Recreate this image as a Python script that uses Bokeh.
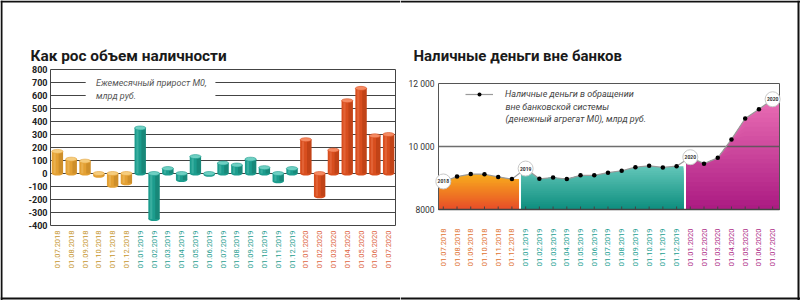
import numpy as np
from math import pi
from bokeh.plotting import figure
from bokeh.layouts import row
from bokeh.models import ColumnDataSource, Range1d, Span, Legend, LegendItem
from bokeh.core.properties import value
from bokeh.embed import file_html
from bokeh.resources import INLINE

# ---------------- data ----------------
dates = ["01.07.2018", "01.08.2018", "01.09.2018", "01.10.2018", "01.11.2018", "01.12.2018",
         "01.01.2019", "01.02.2019", "01.03.2019", "01.04.2019", "01.05.2019", "01.06.2019",
         "01.07.2019", "01.08.2019", "01.09.2019", "01.10.2019", "01.11.2019", "01.12.2019",
         "01.01.2020", "01.02.2020", "01.03.2020", "01.04.2020", "01.05.2020", "01.06.2020",
         "01.07.2020"]
monthly_growth = [170, 110, 95, -18, -95, -75,
                  350, -350, 38, -50, 130, -10, 80, 65, 110, 45, -60, 38,
                  260, -175, 180, 560, 655, 290, 300]
m0_level = [8890, 9045, 9125, 9120, 9035, 8965,
            9300, 8975, 9015, 8965, 9085, 9085, 9170, 9230, 9345, 9385, 9335, 9375,
            9660, 9455, 9640, 10225, 10890, 11180, 11500]
left_ticks = [-400, -300, -200, -100, 0, 100, 200, 300, 400, 500, 600, 700, 800]
left_tick_labels = [str(t) for t in left_ticks]
right_ticks = [8000, 10000, 12000]
right_tick_labels = ["8000", "10 000", "12 000"]

title_left = "Как рос объем наличности"
title_right = "Наличные деньги вне банков"
note_left = ["Ежемесячный прирост М0,", "млрд руб."]
note_right = ["Наличные деньги в обращении", "вне банковской системы",
              "(денежный агрегат М0), млрд руб."]

# ---------------- styles ----------------
bar_col = {"2018": "#E3A033", "2019": "#1C9C8D", "2020": "#D84E1E"}
bar_dark = {"2018": "#B97E22", "2019": "#137366", "2020": "#A93810"}
bar_light = {"2018": "#F6CD7E", "2019": "#6FD0C3", "2020": "#F58A62"}
lab_left = {"2018": "#C6962E", "2019": "#1F9E90", "2020": "#DD6440"}
lab_right = {"2018": "#E0722F", "2019": "#229E91", "2020": "#AE2C88"}
grad = {"2018": ("#F8AC1C", "#E84E28"), "2019": ("#62C6B9", "#0F8F7F"),
        "2020": ("#E86CB3", "#AC1C83")}
FONT = "Roboto"
W, H = 400, 300

years = [d[-4:] for d in dates]
idx = np.arange(len(dates))


def mix(c1, c2, t):
    a = [int(c1[i:i + 2], 16) for i in (1, 3, 5)]
    b = [int(c2[i:i + 2], 16) for i in (1, 3, 5)]
    return "#%02x%02x%02x" % tuple(int(round(a[k] + (b[k] - a[k]) * t)) for k in range(3))


def make_fig(box_px, box_data):
    """Figure whose frame is the whole canvas; box_px (L,R,T,B) maps to box_data (x0,x1,y0,y1)."""
    L, R, T, B = box_px
    x0, x1, y0, y1 = box_data
    sx = (R - L) / (x1 - x0)
    sy = (B - T) / (y1 - y0)
    p = figure(width=W, height=H, output_backend="svg", toolbar_location=None,
               x_range=Range1d(x0 - L / sx, x1 + (W - R) / sx),
               y_range=Range1d(y0 - (H - B) / sy, y1 + T / sy),
               x_axis_location=None, y_axis_location=None, min_border=0,
               outline_line_color=None, background_fill_color="white",
               border_fill_color="white")
    p.grid.visible = False
    return p, sx, sy


def px_to_data(p, sx, sy, px, py):
    return p.x_range.start + px / sx, p.y_range.end - py / sy


# ================= left chart =================
p1, sx1, sy1 = make_fig((50, 395, 69, 225), (-0.5, 24.5, -400, 800))
X0, X1 = -0.5, 24.5
p1.segment(x0=X0, x1=X1, y0=left_ticks, y1=left_ticks, line_color="#444444", line_width=1)
p1.quad(left=2.05, right=11.45, bottom=560, top=740, fill_color="white", line_color=None)
for i, t in enumerate(note_left):
    p1.text(x=[2.8], y=[left_ticks[-2 - i]], text=[t], text_font=value(FONT),
            text_font_size="9px", text_font_style="italic", text_color="#555555",
            text_baseline="middle")
p1.segment(x0=[X0, X1], x1=[X0, X1], y0=left_ticks[0], y1=left_ticks[-1],
           line_color="#444444", line_width=1)
p1.text(x=X0, y=left_ticks, text=left_tick_labels, x_offset=-3, text_font=value(FONT),
        text_font_size="9px", text_font_style="bold", text_color="#222222",
        text_align="right", text_baseline="middle")

gv = np.array(monthly_growth)
src1 = ColumnDataSource(dict(
    x=idx, v=gv, top=np.maximum(gv, 0), bot=np.minimum(gv, 0),
    col=[bar_col[y] for y in years], dark=[bar_dark[y] for y in years],
    light=[bar_light[y] for y in years],
    xr=idx + 0.25, xl=idx - 0.2,
    lab=dates, lcol=[lab_left[y] for y in years],
))
p1.ellipse(x="x", y="bot", width=0.82, height=4, height_units="screen",
           fill_color="col", line_color=None, source=src1)
p1.vbar(x="x", top="v", bottom=0, width=0.82, fill_color="col", line_color=None, source=src1)
p1.vbar(x="xr", top="v", bottom=0, width=0.32, fill_color="dark", fill_alpha=0.5,
        line_color=None, source=src1)
p1.vbar(x="xl", top="v", bottom=0, width=0.16, fill_color="light", fill_alpha=0.35,
        line_color=None, source=src1)
p1.ellipse(x="x", y="top", width=0.82, height=4, height_units="screen",
           fill_color="light", line_color="col", line_width=0.6, source=src1)

p1.text(x="x", y=left_ticks[0], text="lab", source=src1, y_offset=5, angle=pi / 2,
        text_align="right", text_baseline="middle", text_font=value(FONT),
        text_font_size="7.5px", text_color="lcol")
p1.text(x=[X0], y=[left_ticks[-1]], text=[title_left], x_offset=-20, y_offset=-14,
        text_font=value(FONT), text_font_size="15.4px", text_font_style="bold",
        text_color="#1a1a1a", text_baseline="middle")

bx, by_top = px_to_data(p1, sx1, sy1, 1, 1)
_, by_bot = px_to_data(p1, sx1, sy1, 1, 298)
for loc, dim in ((by_top, "width"), (by_bot, "width"), (bx, "height")):
    p1.add_layout(Span(location=loc, dimension=dim, line_color="#111111", line_width=2))

# ================= right chart =================
RX0, RX1, RY0, RY1 = -0.35, 24.5, right_ticks[0], right_ticks[-1]
p2, sx2, sy2 = make_fig((38, 379, 83, 209), (RX0, RX1, RY0, RY1))

base = RY0
groups = []
for y in dict.fromkeys(years):
    ii = [i for i in idx if years[i] == y]
    groups.append((y, ii[0], ii[-1]))
nb = 24
for gi, (y, i0, i1) in enumerate(groups):
    left = RX0 if gi == 0 else i0 - 0.3
    right = RX1 if gi == len(groups) - 1 else i1 + 0.5
    xs = [left] + list(range(i0, i1 + 1)) + [right]
    ys = np.array([m0_level[i0]] + m0_level[i0:i1 + 1] + [m0_level[i1]], dtype=float)
    top = ys.max()
    for k in range(nb):
        lvl = top - (top - base) * k / nb
        p2.varea(x=xs, y1=base, y2=np.minimum(ys, lvl),
                 fill_color=mix(grad[y][0], grad[y][1], k / (nb - 1)))

p2.segment(x0=RX0, x1=RX1, y0=right_ticks[1], y1=right_ticks[1],
           line_color="#555555", line_width=1.5, line_alpha=0.85)
p2.quad(left=RX0, right=RX1, bottom=RY0, top=RY1, fill_color=None,
        line_color="#555555", line_width=1)
p2.segment(x0=RX0, x1=RX1, y0=RY0, y1=RY0, line_color="#444444", line_width=1.5)
p2.segment(x0=idx, x1=idx, y0=RY0, y1=RY0 + 3 / sy2, line_color="#444444", line_width=1)
p2.text(x=RX0, y=right_ticks, text=right_tick_labels, x_offset=-4, text_font=value(FONT),
        text_font_size="8.5px", text_color="#333333", text_align="right",
        text_baseline="middle")

line_r = p2.line(idx, m0_level, line_color="#9a9a9a", line_width=1.2)
badge_idx = [g[1] for g in groups] + [len(idx) - 1]
dot_idx = [int(i) for i in idx if i not in badge_idx]
dot_r = p2.scatter(dot_idx, [m0_level[i] for i in dot_idx],
                   size=4.5, fill_color="black", line_color=None)
bsrc = ColumnDataSource(dict(x=badge_idx, y=[m0_level[i] for i in badge_idx],
                             t=[years[i] for i in badge_idx]))
p2.scatter("x", "y", source=bsrc, size=15, fill_color="white", line_color="#c8c8c8",
           line_width=1)
p2.text("x", "y", text="t", source=bsrc, text_font=value(FONT), text_font_size="5px",
        text_font_style="bold", text_color="#333333", text_align="center",
        text_baseline="middle")

leg = Legend(items=[LegendItem(label=note_right[0], renderers=[line_r, dot_r])],
             location=(65, 201), background_fill_alpha=0, border_line_color=None,
             label_text_font=FONT, label_text_font_size="9px",
             label_text_font_style="italic", label_text_color="#444444",
             glyph_width=28, glyph_height=10, label_standoff=12, margin=0, padding=0)
p2.add_layout(leg)
nx, _ = px_to_data(p2, sx2, sy2, 105, 0)
for k, t in enumerate(note_right[1:]):
    _, ny = px_to_data(p2, sx2, sy2, 105, 106 + 12.5 * k)
    p2.text(x=[nx], y=[ny], text=[t], text_font=value(FONT), text_font_size="9px",
            text_font_style="italic", text_color="#444444", text_baseline="middle")

src2 = ColumnDataSource(dict(x=idx, lab=dates, lcol=[lab_right[y] for y in years]))
p2.text(x="x", y=RY0, text="lab", source=src2, y_offset=19, angle=pi / 2,
        text_align="right", text_baseline="middle", text_font=value(FONT),
        text_font_size="7.5px", text_color="lcol")
p2.text(x=[RX0], y=[RY1], text=[title_right], x_offset=-25, y_offset=-28,
        text_font=value(FONT), text_font_size="15px", text_font_style="bold",
        text_color="#1a1a1a", text_baseline="middle")

rx, ry_top = px_to_data(p2, sx2, sy2, 398, 1)
_, ry_bot = px_to_data(p2, sx2, sy2, 398, 298)
for loc, dim in ((ry_top, "width"), (ry_bot, "width"), (rx, "height")):
    p2.add_layout(Span(location=loc, dimension=dim, line_color="#111111", line_width=2))

layout = row(p1, p2)
open("out.html", "w").write(file_html(layout, INLINE))
